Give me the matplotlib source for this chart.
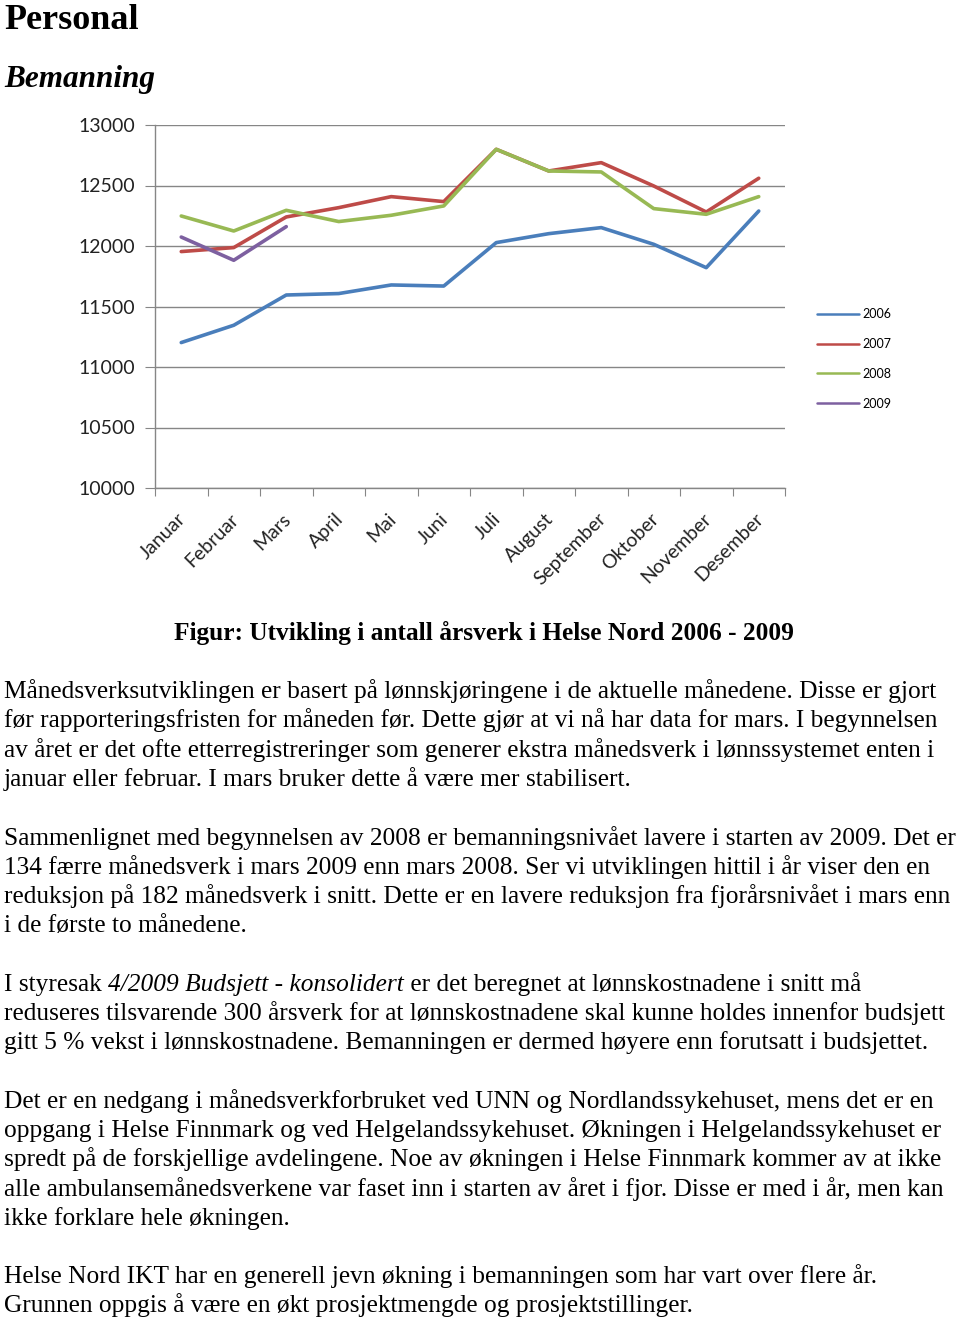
import matplotlib
matplotlib.use("Agg")
import matplotlib.pyplot as plt
import matplotlib.transforms as mtransforms
import numpy as np

months = ["Januar", "Februar", "Mars", "April", "Mai", "Juni", "Juli",
          "August", "September", "Oktober", "November", "Desember"]
y2006 = [11202, 11345, 11595, 11607, 11678, 11669, 12028, 12102, 12152, 12014, 11821, 12289]
y2007 = [11954, 11987, 12240, 12317, 12408, 12367, 12799, 12620, 12689, 12496, 12281, 12560]
y2008 = [12248, 12124, 12295, 12202, 12254, 12331, 12799, 12620, 12612, 12309, 12262, 12408]
y2009 = [12074, 11882, 12160]
years = ["2006", "2007", "2008", "2009"]
yticks = [10000, 10500, 11000, 11500, 12000, 12500, 13000]

colors = ["#4A7EBB", "#BE4B48", "#98B954", "#7D60A0"]

W, H = 960, 1318
fig = plt.figure(figsize=(W / 100, H / 100), dpi=100)

def fx(px):
    return px / W

def fy(py):
    return 1 - py / H

# Headings
fig.text(fx(4), fy(29), "Personal", fontsize=26, fontweight="bold",
         family="Liberation Serif", va="baseline", ha="left")
fig.text(fx(4), fy(87), "Bemanning", fontsize=22.5, fontweight="bold", style="italic",
         family="Liberation Serif", va="baseline", ha="left")

# Chart
ax = fig.add_axes([fx(155), fy(488), fx(785) - fx(155), fy(125) - fy(488)])
x = np.arange(len(months))
for vals, c, lab in zip([y2006, y2007, y2008, y2009], colors, years):
    ax.plot(x[:len(vals)], vals, color=c, lw=2.6, label=lab, solid_capstyle="round",
            solid_joinstyle="round")
ax.set_xlim(-0.5, 11.5)
ax.set_ylim(10000, 13000)
ax.set_yticks(yticks)
ax.set_yticklabels([str(v) for v in yticks], family="Lato", fontsize=14, color="#222222")
ax.set_xticks(np.arange(-0.5, 12, 1))
ax.set_xticklabels([])
ax.set_xticks(x, minor=True)
ax.set_xticklabels(months, minor=True, rotation=45, ha="right", va="top",
                   rotation_mode="anchor", family="Lato", fontsize=14, color="#222222")
ax.tick_params(axis="x", which="minor", length=0, pad=16)
ax.tick_params(axis="x", which="major", length=6, color="#868686", direction="out")
ax.tick_params(axis="y", length=7, color="#868686", direction="out", pad=7)
offset = mtransforms.ScaledTranslation(-4 / 100, 0, fig.dpi_scale_trans)
for lbl in ax.get_xticklabels(minor=True):
    lbl.set_transform(lbl.get_transform() + offset)
ax.grid(axis="y", color="#868686", lw=1)
ax.set_axisbelow(True)
for s in ["top", "right"]:
    ax.spines[s].set_visible(False)
for s in ["left", "bottom"]:
    ax.spines[s].set_color("#868686")
    ax.spines[s].set_linewidth(1)

leg = fig.legend(loc="upper left", bbox_to_anchor=(fx(806), fy(297)), frameon=False,
                 prop={"family": "Lato", "size": 9}, handlelength=3.3, labelspacing=1.42,
                 handletextpad=0.35)
for h in leg.get_lines():
    h.set_linewidth(1.8)

# Caption
fig.text(fx(484), fy(640), "Figur: Utvikling i antall årsverk i Helse Nord 2006 - 2009",
         fontsize=18.3, fontweight="bold", family="Liberation Serif", ha="center", va="baseline")

# Body text
body_fs = 18.3
fam = "Liberation Serif"
lines = [
    (698, "Månedsverksutviklingen er basert på lønnskjøringene i de aktuelle månedene. Disse er gjort"),
    (727, "før rapporteringsfristen for måneden før. Dette gjør at vi nå har data for mars. I begynnelsen"),
    (757, "av året er det ofte etterregistreringer som generer ekstra månedsverk i lønnssystemet enten i"),
    (786, "januar eller februar. I mars bruker dette å være mer stabilisert."),
    (845, "Sammenlignet med begynnelsen av 2008 er bemanningsnivået lavere i starten av 2009. Det er"),
    (874, "134 færre månedsverk i mars 2009 enn mars 2008. Ser vi utviklingen hittil i år viser den en"),
    (903, "reduksjon på 182 månedsverk i snitt. Dette er en lavere reduksjon fra fjorårsnivået i mars enn"),
    (932, "i de første to månedene."),
    (1020, "reduseres tilsvarende 300 årsverk for at lønnskostnadene skal kunne holdes innenfor budsjett"),
    (1049, "gitt 5 % vekst i lønnskostnadene. Bemanningen er dermed høyere enn forutsatt i budsjettet."),
    (1108, "Det er en nedgang i månedsverkforbruket ved UNN og Nordlandssykehuset, mens det er en"),
    (1137, "oppgang i Helse Finnmark og ved Helgelandssykehuset. Økningen i Helgelandssykehuset er"),
    (1166, "spredt på de forskjellige avdelingene. Noe av økningen i Helse Finnmark kommer av at ikke"),
    (1196, "alle ambulansemånedsverkene var faset inn i starten av året i fjor. Disse er med i år, men kan"),
    (1225, "ikke forklare hele økningen."),
    (1283, "Helse Nord IKT har en generell jevn økning i bemanningen som har vart over flere år."),
    (1312, "Grunnen oppgis å være en økt prosjektmengde og prosjektstillinger."),
]
for yb, t in lines:
    fig.text(fx(4), fy(yb), t, fontsize=body_fs, family=fam, ha="left", va="baseline")

# Mixed line with italic segment
renderer = fig.canvas.get_renderer()
segs = [("I styresak ", "normal"), ("4/2009 Budsjett - konsolidert", "italic"),
        (" er det beregnet at lønnskostnadene i snitt må", "normal")]
xpos = 4
for s, st in segs:
    t = fig.text(fx(xpos), fy(991), s, fontsize=body_fs, family=fam, style=st,
                 ha="left", va="baseline")
    bb = t.get_window_extent(renderer=renderer)
    xpos += bb.width

fig.savefig("out.png", dpi=100)
